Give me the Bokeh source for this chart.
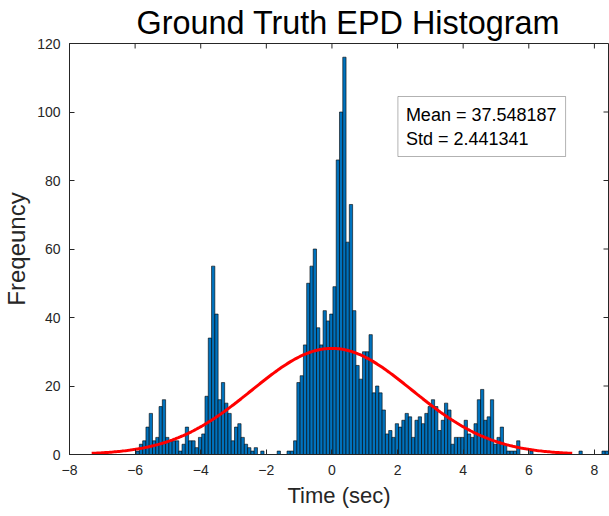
import numpy as np
from bokeh.plotting import figure
from bokeh.models import BoxAnnotation, FixedTicker, Range1d, Label
from bokeh.embed import file_html
from bokeh.resources import INLINE

# ---------------- data ----------------
title_text = "Ground Truth EPD Histogram"
x_label = "Time (sec)"
y_label = "Freqeuncy"
mean_text = "Mean = 37.548187"
std_text = "Std = 2.441341"
fit_sigma = 2.441341
fit_mu = 0.0

bin_start = -5.97
bin_width = 0.1
counts = [
    1, 3, 4, 8, 12, 4, 5, 14, 16, 5,          # -5.97 ..
    4, 4, 4, 1, 3, 8, 4, 4, 2, 5,             # -4.97 ..
    6, 17, 34, 55, 41, 16, 21, 15, 12, 4,     # -3.97 ..
    8, 9, 5, 3, 2, 1, 2, 0, 1, 0,             # -2.97 ..
    0, 0, 0, 1, 0, 0, 1, 1, 4, 21,            # -1.97 ..
    23, 32, 50, 55, 60, 37, 32, 42, 39, 41,   # -0.97 ..
    49, 86, 100, 116, 62, 73, 42, 26, 22, 30, # 0.03 ..
    30, 35, 18, 20, 18, 13, 6, 7, 5, 9,       # 1.03 ..
    8, 10, 12, 11, 5, 10, 11, 9, 12, 14,      # 2.03 ..
    16, 14, 7, 10, 15, 13, 3, 5, 5, 5,        # 3.03 ..
    10, 6, 5, 9, 16, 19, 10, 11, 16, 3,       # 4.03 ..
    5, 8, 3, 1, 1, 1, 4, 0, 0, 0,             # 5.03 ..
    1, 0, 0, 0, 0, 0, 0, 0, 0, 0,             # 6.03 ..
    0, 0, 0, 0, 0, 1, 0, 0, 0, 0,             # 7.03 ..
    0, 0, 1, 1,                               # 8.03 ..
]
x_ticks = [-8, -6, -4, -2, 0, 2, 4, 6, 8]
y_ticks = [0, 20, 40, 60, 80, 100, 120]
x_lo, x_hi = -8.0, 8.43
y_lo, y_hi = 0.0, 120.0

# ---------------- derived ----------------
counts = np.array(counts, dtype=float)
edges = bin_start + bin_width * np.arange(len(counts) + 1)
n_total = counts.sum()
xs = np.linspace(fit_mu - 3 * fit_sigma, fit_mu + 3 * fit_sigma, 300)
ys = n_total * bin_width / (fit_sigma * np.sqrt(2 * np.pi)) * np.exp(-0.5 * ((xs - fit_mu) / fit_sigma) ** 2)

W, H = 609, 516
BL, BR, BT, BB = 68, 1, 43, 62
FW, FH = W - BL - BR, H - BT - BB

def px2x(px):
    return x_lo + (px - BL) * (x_hi - x_lo) / FW

def py2y(py):
    return y_lo + (BT + FH - py) * (y_hi - y_lo) / FH

FONT = "Liberation Sans"
DARK = "#262626"
TICK = 5

p = figure(width=W, height=H, x_range=Range1d(x_lo, x_hi), y_range=Range1d(y_lo, y_hi),
           output_backend="svg", toolbar_location=None,
           min_border_left=BL, min_border_right=BR, min_border_top=BT, min_border_bottom=BB)
p.xgrid.visible = False
p.ygrid.visible = False
p.outline_line_color = DARK
p.background_fill_color = "white"
p.border_fill_color = "white"

p.title.text = title_text
p.title.text_font = FONT
p.title.text_font_size = "32.4px"
p.title.text_font_style = "normal"
p.title.text_color = "black"
p.title.align = "left"
p.title.standoff = 5
p.title.offset = 67

for ax, ticks in ((p.xaxis[0], x_ticks), (p.yaxis[0], y_ticks)):
    ax.ticker = FixedTicker(ticks=ticks)
    ax.major_tick_in = TICK
    ax.major_tick_out = 0
    ax.minor_tick_line_color = None
    ax.axis_line_color = DARK
    ax.major_tick_line_color = DARK
    ax.major_label_text_color = DARK
    ax.major_label_text_font = FONT
    ax.major_label_text_font_size = "14px"
    ax.axis_label_text_font = FONT
    ax.axis_label_text_font_style = "normal"
    ax.axis_label_text_color = DARK
p.xaxis.major_label_standoff = 10
p.yaxis.major_label_standoff = 9
p.xaxis.axis_label = x_label
p.yaxis.axis_label = y_label
p.xaxis.axis_label_text_font_size = "22px"
p.yaxis.axis_label_text_font_size = "24px"
p.xaxis.axis_label_standoff = 5
p.yaxis.axis_label_standoff = 4

# inward ticks on the top and right edges of the box
dy = TICK * (y_hi - y_lo) / FH
dx = TICK * (x_hi - x_lo) / FW
p.segment(x0=x_ticks, x1=x_ticks, y0=[y_hi] * len(x_ticks), y1=[y_hi - dy] * len(x_ticks),
          line_color=DARK, line_width=1)
p.segment(x0=[x_hi] * len(y_ticks), x1=[x_hi - dx] * len(y_ticks), y0=y_ticks, y1=y_ticks,
          line_color=DARK, line_width=1)

p.quad(left=edges[:-1], right=edges[1:], bottom=0, top=counts,
       fill_color="#0072BD", line_color="black", line_width=0.6)
p.line(xs, ys, line_color="red", line_width=3)

box = BoxAnnotation(left=px2x(397), right=px2x(565), top=py2y(96), bottom=py2y(156),
                    fill_color="white", fill_alpha=1.0, line_color="black", line_width=1)
p.add_layout(box)
p.add_layout(Label(x=px2x(405), y=py2y(114), text=mean_text, text_font=FONT,
                   text_font_size="18px", text_baseline="middle", text_color="black"))
p.add_layout(Label(x=px2x(405), y=py2y(138), text=std_text, text_font=FONT,
                   text_font_size="18px", text_baseline="middle", text_color="black"))

open("out.html", "w").write(file_html(p, INLINE))
